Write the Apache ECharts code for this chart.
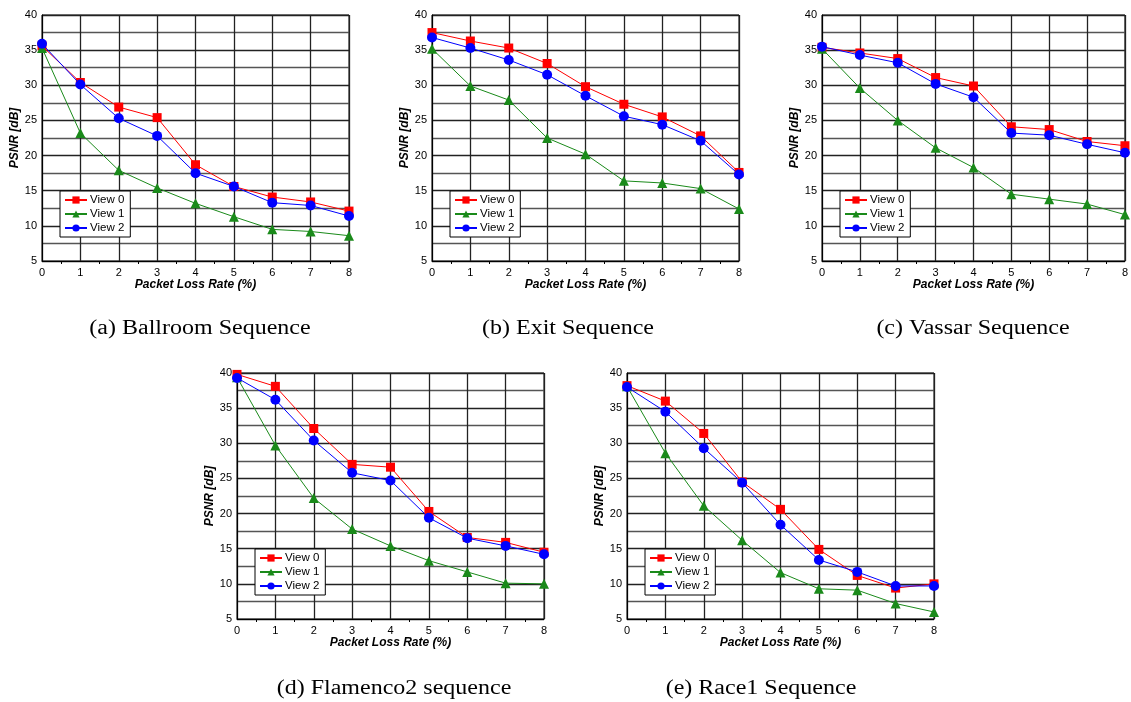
<!DOCTYPE html>
<html>
<head>
<meta charset="utf-8">
<script src="https://cdn.jsdelivr.net/npm/echarts@6/dist/echarts.min.js"></script>
<style>
  html, body { margin: 0; padding: 0; background: #fff; }
  #chart { width: 1131px; height: 702px; }
</style>
</head>
<body>
<div id="chart"></div>
<script>
// x axis: packet loss rate (%)
const lossRate = [0, 1, 2, 3, 4, 5, 6, 7, 8]
const viewNames = ['View 0', 'View 1', 'View 2']
const yTicks = { min: 5, max: 40, step: 5 }

// (a) Ballroom
const ballroomView0 = [35.6, 30.4, 26.9, 25.4, 18.7, 15.6, 14.1, 13.4, 12.1]
const ballroomView1 = [35.3, 23.2, 17.9, 15.4, 13.2, 11.3, 9.5, 9.2, 8.6]
const ballroomView2 = [35.9, 30.1, 25.3, 22.8, 17.5, 15.6, 13.3, 12.9, 11.4]

// (b) Exit
const exitView0 = [37.5, 36.3, 35.3, 33.1, 29.8, 27.3, 25.5, 22.8, 17.6]
const exitView1 = [35.2, 29.9, 27.9, 22.5, 20.2, 16.4, 16.1, 15.3, 12.4]
const exitView2 = [36.8, 35.3, 33.6, 31.5, 28.5, 25.6, 24.4, 22.1, 17.3]

// (c) Vassar
const vassarView0 = [35.4, 34.6, 33.8, 31.1, 29.9, 24.1, 23.7, 22.0, 21.4]
const vassarView1 = [35.2, 29.6, 25.0, 21.1, 18.3, 14.5, 13.8, 13.1, 11.6]
const vassarView2 = [35.5, 34.3, 33.2, 30.2, 28.3, 23.2, 22.9, 21.6, 20.4]

// (d) Flamenco2
const flamencoView0 = [39.8, 38.1, 32.1, 27.0, 26.6, 20.3, 16.6, 15.9, 14.5]
const flamencoView1 = [39.4, 29.7, 22.2, 17.8, 15.4, 13.3, 11.7, 10.1, 10.0]
const flamencoView2 = [39.3, 36.2, 30.4, 25.8, 24.7, 19.4, 16.5, 15.4, 14.2]

// (e) Race1
const race1View0 = [38.2, 36.0, 31.4, 24.5, 20.6, 14.9, 11.2, 9.4, 10.0]
const race1View1 = [38.1, 28.6, 21.1, 16.2, 11.6, 9.3, 9.1, 7.2, 6.0]
const race1View2 = [38.0, 34.5, 29.3, 24.4, 18.4, 13.4, 11.7, 9.7, 9.7]

const captions = [
  '(a) Ballroom Sequence',
  '(b) Exit Sequence',
  '(c) Vassar Sequence',
  '(d) Flamenco2 sequence',
  '(e) Race1 Sequence'
]

const panels = [
  { views: [ballroomView0, ballroomView1, ballroomView2], left: 42, top: 15, capX: 200, capY: 329 },
  { views: [exitView0, exitView1, exitView2], left: 432, top: 15, capX: 568, capY: 329 },
  { views: [vassarView0, vassarView1, vassarView2], left: 822, top: 15, capX: 973, capY: 329 },
  { views: [flamencoView0, flamencoView1, flamencoView2], left: 237, top: 373, capX: 394, capY: 689 },
  { views: [race1View0, race1View1, race1View2], left: 627, top: 373, capX: 761, capY: 689 }
]

const plotW = 307, plotH = 246
const colors = ['#ff0000', '#1a8a1a', '#0000ff']
const symbols = ['rect', 'triangle', 'circle']
const symbolSizes = [9, 10, 10]
const font = 'Liberation Sans, Arial, sans-serif'

const grid = [], xAxis = [], yAxis = [], series = [], legend = [], graphic = []

panels.forEach((p, i) => {
  grid.push({
    left: p.left, top: p.top, width: plotW, height: plotH,
    show: true, borderColor: '#000', borderWidth: 1, backgroundColor: 'transparent'
  })
  xAxis.push({
    type: 'value', gridIndex: i, min: 0, max: 8, interval: 1,
    name: 'Packet Loss Rate (%)', nameLocation: 'middle', nameGap: 18,
    nameTextStyle: { fontFamily: font, fontSize: 12, fontWeight: 'bold', fontStyle: 'italic', color: '#000' },
    axisLine: { lineStyle: { color: '#000', width: 1 } },
    axisTick: { show: false },
    minorTick: { show: true, splitNumber: 2, length: 3, lineStyle: { color: '#000' } },
    axisLabel: { fontFamily: font, fontSize: 11, color: '#000', margin: 6 },
    splitLine: { show: true, lineStyle: { color: '#222', width: 1.3 } }
  })
  yAxis.push({
    type: 'value', gridIndex: i, min: yTicks.min, max: yTicks.max, interval: yTicks.step,
    name: 'PSNR [dB]', nameLocation: 'middle', nameGap: 20,
    nameTextStyle: { fontFamily: font, fontSize: 12, fontWeight: 'bold', fontStyle: 'italic', color: '#000' },
    axisLine: { show: true, lineStyle: { color: '#000', width: 1 } },
    axisTick: { show: false },
    minorTick: { show: false, splitNumber: 2 },
    minorSplitLine: { show: true, lineStyle: { color: '#555', width: 1.4 } },
    axisLabel: { fontFamily: font, fontSize: 11, color: '#000', margin: 5 },
    splitLine: { show: true, lineStyle: { color: '#222', width: 1.3 } }
  })

  p.views.forEach((vals, k) => {
    series.push({
      name: viewNames[k], type: 'line',
      xAxisIndex: i, yAxisIndex: i,
      data: lossRate.map((x, j) => [x, vals[j]]),
      symbol: symbols[k], symbolSize: symbolSizes[k],
      itemStyle: { color: colors[k] },
      lineStyle: { color: colors[k], width: 1 },
      clip: false, z: 3 + k
    })
  })

  // legend box inside the plot
  legend.push({
    data: viewNames, orient: 'vertical',
    left: p.left + 18, top: p.top + 176,
    backgroundColor: '#fff', borderColor: '#000', borderWidth: 1,
    padding: [3, 6, 3, 4], itemGap: 2, itemWidth: 22, itemHeight: 9,
    textStyle: { fontFamily: font, fontSize: 11.5, color: '#000', padding: [0, 0, 0, -2] }
  })

  // caption under each panel, horizontally stretched as in the source figure
  graphic.push({
    type: 'text', x: p.capX, y: p.capY, scaleX: 1.2,
    style: {
      text: captions[i], fill: '#000',
      font: '20px "Liberation Serif", "Times New Roman", serif',
      textAlign: 'center', textVerticalAlign: 'middle'
    }
  })
})

const myChart = echarts.init(document.getElementById('chart'))
myChart.setOption({
  animation: false,
  backgroundColor: '#fff',
  grid, xAxis, yAxis, series, legend, graphic
})
</script>
</body>
</html>
